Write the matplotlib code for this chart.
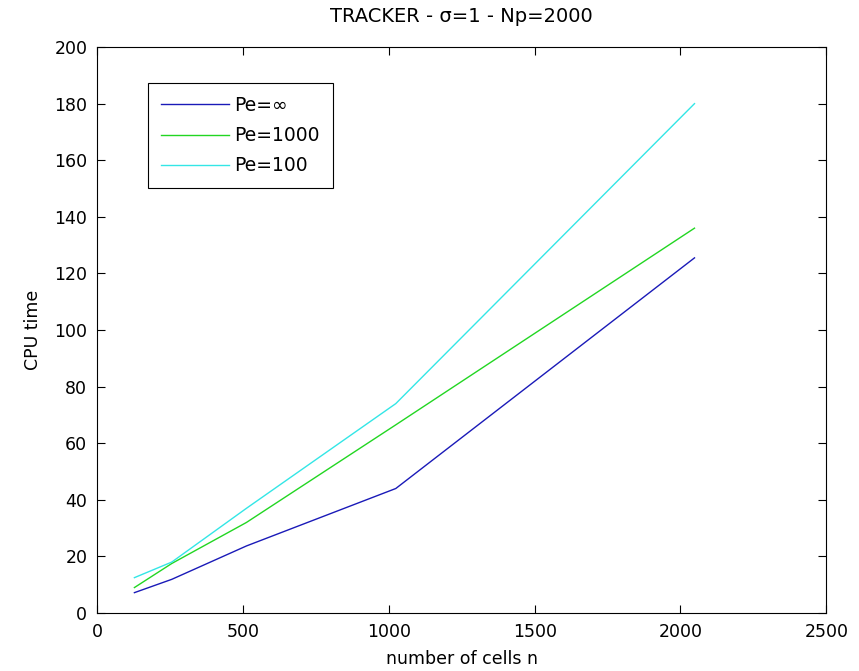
import matplotlib.pyplot as plt

plt.rcParams['font.family'] = ['DejaVu Sans']

# number of cells
cells = [128, 256, 512, 1024, 2048]

# CPU time for each Peclet number
cpu_pe_inf = [7.2, 11.9, 23.7, 44.0, 125.5]
cpu_pe_1000 = [9.0, 17.5, 32.0, 66.5, 136.0]
cpu_pe_100 = [12.5, 18.0, 37.0, 74.0, 180.0]

series_labels = ['Pe=\u221e', 'Pe=1000', 'Pe=100']
x_ticks = [0, 500, 1000, 1500, 2000, 2500]
y_ticks = [0, 20, 40, 60, 80, 100, 120, 140, 160, 180, 200]

fig = plt.figure(figsize=(8.59, 6.71), dpi=100)
ax = fig.add_axes([0.113, 0.0864, 0.849, 0.8435])

ax.plot(cells, cpu_pe_inf, color='#1a1ab8', lw=1.0, label=series_labels[0])
ax.plot(cells, cpu_pe_1000, color='#22d622', lw=1.0, label=series_labels[1])
ax.plot(cells, cpu_pe_100, color='#33e6e6', lw=1.0, label=series_labels[2])

ax.set_xlim(0, 2500)
ax.set_ylim(0, 200)
ax.set_xticks(x_ticks)
ax.set_yticks(y_ticks)
ax.tick_params(direction='in', top=True, right=True, length=6, width=0.8,
               labelsize=12.5, pad=7)
for s in ax.spines.values():
    s.set_linewidth(0.8)

ax.set_xlabel('number of cells n', fontsize=12.5, labelpad=7)
ax.set_ylabel('CPU time', fontsize=12.5, labelpad=9)
ax.set_title('TRACKER - \u03c3=1 - Np=2000', fontsize=14, pad=18)

leg = ax.legend(loc='upper left', bbox_to_anchor=(0.07, 0.937), borderaxespad=0,
                fancybox=False, edgecolor='black', framealpha=1, fontsize=13.5,
                handlelength=3.6, handletextpad=0.3, labelspacing=0.6,
                borderpad=0.7)
leg.get_frame().set_linewidth(0.8)

fig.savefig('out.png', dpi=100)
